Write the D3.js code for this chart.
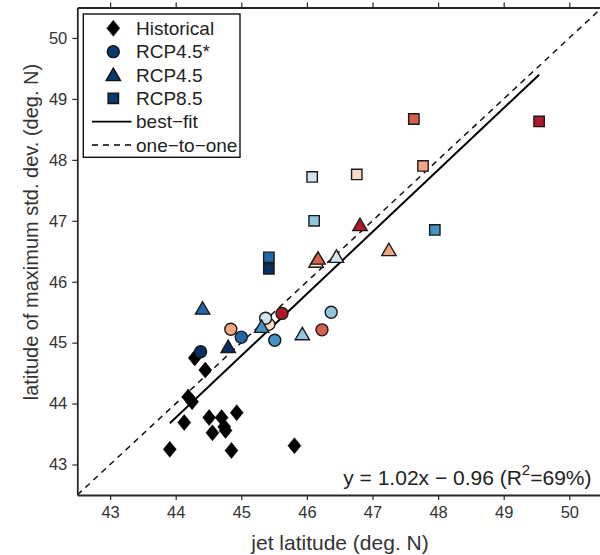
<!DOCTYPE html>
<html>
<head>
<meta charset="utf-8">
<script src="https://cdn.jsdelivr.net/npm/d3@7"></script>
<style>
  html, body { margin: 0; padding: 0; background: #fff; }
  svg { display: block; }
  text { font-family: "Liberation Sans", Arial, Helvetica, sans-serif; }
</style>
</head>
<body>
<svg id="chart" width="600" height="555"></svg>
<script>
// ---------- data ----------
const tickValues = [43, 44, 45, 46, 47, 48, 49, 50];

const histX = [44.29, 44.45, 44.19, 44.25, 44.13, 44.51, 44.70, 44.74, 44.56, 44.76, 44.93, 43.91, 44.85, 45.81];
const histY = [44.75, 44.55, 44.11, 44.03, 43.69, 43.77, 43.77, 43.62, 43.52, 43.56, 43.85, 43.25, 43.23, 43.31];

const rcp45sX = [44.38, 44.84, 45.00, 45.42, 45.37, 45.62, 45.51, 46.23, 46.37];
const rcp45sY = [44.85, 45.22, 45.09, 45.30, 45.40, 45.48, 45.04, 45.21, 45.50];
const rcp45sC = ["navy", "salmon", "blue", "vlpink", "vlblue", "darkred", "midblue", "red", "lightblue"];

const rcp45X = [44.41, 44.80, 45.31, 45.93, 46.14, 46.17, 46.45, 46.81, 47.25];
const rcp45Y = [45.56, 44.93, 45.26, 45.14, 46.33, 46.38, 46.41, 46.93, 46.52];
const rcp45C = ["blue", "navy", "midblue", "lightblue", "vlpink", "red", "vlblue", "darkred", "salmon"];

const rcp85X = [45.42, 45.42, 47.63, 49.54, 47.77, 46.08, 46.76, 46.11, 47.95];
const rcp85Y = [46.40, 46.21, 48.67, 48.63, 47.90, 47.72, 47.76, 47.00, 46.85];
const rcp85C = ["blue", "navy", "red", "darkred", "salmon", "vlblue", "vlpink", "lightblue", "midblue"];

const palette = {
  darkred: "#b2182b", red: "#d6604d", salmon: "#f4a582", vlpink: "#fddbc7",
  vlblue: "#d1e5f0", lightblue: "#92c5de", midblue: "#4393c3", blue: "#2166ac", navy: "#053061"
};

const fitSlope = 1.016, fitIntercept = -0.935;
const fitLabel = "y = 1.02x \u2212 0.96 (R";
const legendLabels = ["Historical", "RCP4.5*", "RCP4.5", "RCP8.5", "best\u2212fit", "one\u2212to\u2212one"];

// ---------- layout ----------
const svg = d3.select("#chart");
const x = d3.scaleLinear().domain([42.5, 50.5]).range([77.3, 602.1]);
const y = d3.scaleLinear().domain([42.5, 50.5]).range([495, 7.5]);

svg.append("defs").append("clipPath").attr("id", "plotclip")
  .append("rect").attr("x", x(42.5)).attr("y", y(50.5))
  .attr("width", x(50.5) - x(42.5)).attr("height", y(42.5) - y(50.5));

function shapePath(kind) {
  if (kind === "diamond") return "M0,-8L6.5,0L0,8L-6.5,0Z";
  if (kind === "circle") return d3.symbol().type(d3.symbolCircle).size(Math.PI * 36)();
  if (kind === "triangle") return "M0,-6.8L7.2,5.6L-7.2,5.6Z";
  if (kind === "square") return "M-5.2,-5.2H5.2V5.2H-5.2Z";
}

const plot = svg.append("g").attr("clip-path", "url(#plotclip)");

// one-to-one line
plot.append("line")
  .attr("x1", x(42.5)).attr("y1", y(42.5)).attr("x2", x(50.5)).attr("y2", y(50.5))
  .attr("stroke", "#111").attr("stroke-width", 1.5).attr("stroke-dasharray", "6,5");

// best-fit line over data x range
const allX = histX.concat(rcp45sX, rcp45X, rcp85X);
const xmin = d3.min(allX), xmax = d3.max(allX);
plot.append("line")
  .attr("x1", x(xmin)).attr("y1", y(fitSlope * xmin + fitIntercept))
  .attr("x2", x(xmax)).attr("y2", y(fitSlope * xmax + fitIntercept))
  .attr("stroke", "#000").attr("stroke-width", 2);

function drawSeries(xs, ys, cs, kind) {
  const data = xs.map((v, i) => ({ x: v, y: ys[i], c: cs ? palette[cs[i]] : "#000" }));
  plot.append("g").selectAll("path").data(data).join("path")
    .attr("d", shapePath(kind))
    .attr("transform", d => `translate(${x(d.x)},${y(d.y)})`)
    .attr("fill", d => d.c)
    .attr("stroke", kind === "diamond" ? "#000" : "#1a1a1a")
    .attr("stroke-width", kind === "diamond" ? 0.5 : 1.4)
    .attr("stroke-linejoin", "miter");
}
drawSeries(histX, histY, null, "diamond");
drawSeries(rcp45sX, rcp45sY, rcp45sC, "circle");
drawSeries(rcp45X, rcp45Y, rcp45C, "triangle");
drawSeries(rcp85X, rcp85Y, rcp85C, "square");

// ---------- axes ----------
function styleAxis(g, labels) {
  g.select(".domain").attr("stroke", "#262626").attr("stroke-width", 1.8);
  g.selectAll(".tick line").attr("stroke", "#262626").attr("stroke-width", 1.2);
  g.selectAll(".tick text").attr("fill", "#333").attr("font-size", "16.5px")
    .attr("font-family", "Liberation Sans, Arial, sans-serif");
  if (!labels) g.selectAll(".tick text").remove();
}
svg.append("g").attr("transform", `translate(0,${y(42.5)})`)
  .call(d3.axisBottom(x).tickValues(tickValues).tickSize(5).tickSizeOuter(0).tickPadding(6).tickFormat(d3.format("d")))
  .call(g => styleAxis(g, true));
svg.append("g").attr("transform", `translate(0,${y(50.5)})`)
  .call(d3.axisTop(x).tickValues(tickValues).tickSize(5).tickSizeOuter(0))
  .call(g => styleAxis(g, false));
svg.append("g").attr("transform", `translate(${x(42.5)},0)`)
  .call(d3.axisLeft(y).tickValues(tickValues).tickSize(5).tickSizeOuter(0).tickPadding(5).tickFormat(d3.format("d")))
  .call(g => styleAxis(g, true));
svg.append("g").attr("transform", `translate(${x(50.5)},0)`)
  .call(d3.axisRight(y).tickValues(tickValues).tickSize(5).tickSizeOuter(0))
  .call(g => styleAxis(g, false));

// axis titles
svg.append("text").attr("x", 340).attr("y", 550)
  .attr("text-anchor", "middle").attr("font-size", "21px").attr("fill", "#333")
  .text("jet latitude (deg. N)");
svg.append("text").attr("transform", `translate(38,${232}) rotate(-90)`)
  .attr("text-anchor", "middle").attr("font-size", "20px").attr("fill", "#333")
  .text("latitude of maximum std. dev. (deg. N)");

// equation
const eq = svg.append("text").attr("x", 591.5).attr("y", 485)
  .attr("text-anchor", "end").attr("font-size", "21px").attr("fill", "#222");
eq.append("tspan").text(fitLabel);
eq.append("tspan").attr("dy", -10).attr("font-size", "15px").text("2");
eq.append("tspan").attr("dy", 10).text("=69%)");

// ---------- legend ----------
const lg = svg.append("g");
lg.append("rect").attr("x", 83.3).attr("y", 14).attr("width", 156.7).attr("height", 143.3)
  .attr("fill", "#fff").attr("stroke", "#111").attr("stroke-width", 1.4);
const legendKinds = ["diamond", "circle", "triangle", "square", "solid", "dashed"];
const legendY = d3.scaleLinear().domain([0, 5]).range([28.3, 145]);
legendKinds.forEach((k, i) => {
  const cy = legendY(i);
  if (k === "solid" || k === "dashed") {
    lg.append("line").attr("x1", 92).attr("x2", 131.5).attr("y1", cy).attr("y2", cy)
      .attr("stroke", "#000").attr("stroke-width", k === "solid" ? 1.6 : 1.5)
      .attr("stroke-dasharray", k === "dashed" ? "6,5" : null);
  } else {
    lg.append("path").attr("d", shapePath(k)).attr("transform", `translate(113.3,${cy})`)
      .attr("fill", k === "diamond" ? "#000" : "#0b3a6e")
      .attr("stroke", "#111").attr("stroke-width", k === "diamond" ? 0.5 : 1.4);
  }
  lg.append("text").attr("x", 136).attr("y", cy + 6.8).attr("font-size", "19px").attr("fill", "#222")
    .text(legendLabels[i]);
});
</script>
</body>
</html>
